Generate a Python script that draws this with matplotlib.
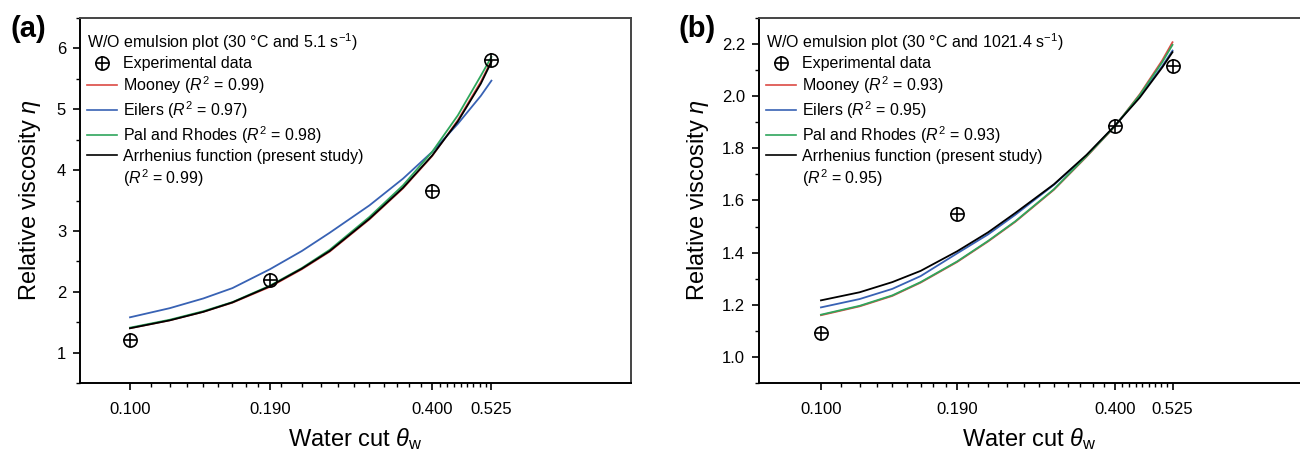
import numpy as np
import matplotlib
matplotlib.use("Agg")
import matplotlib.pyplot as plt
from matplotlib.lines import Line2D
from matplotlib.ticker import FixedLocator, NullFormatter

plt.rcParams['font.family'] = ['Liberation Sans', 'DejaVu Sans']
plt.rcParams['mathtext.fontset'] = 'custom'
plt.rcParams['mathtext.rm'] = 'Liberation Sans'
plt.rcParams['mathtext.it'] = 'Liberation Sans:italic'
plt.rcParams['mathtext.bf'] = 'Liberation Sans:bold'

# experimental points
water_cut = [0.100, 0.190, 0.400, 0.525]
exp_a = [1.20, 2.20, 3.65, 5.81]
exp_b = [1.09, 1.55, 1.885, 2.115]

# model curves
curve_x = [0.10, 0.12, 0.14, 0.16, 0.19, 0.22, 0.25, 0.30, 0.35, 0.40, 0.45, 0.50, 0.525]

mooney_a = [1.40, 1.53, 1.67, 1.82, 2.08, 2.37, 2.66, 3.19, 3.70, 4.23, 4.82, 5.45, 5.80]
eilers_a = [1.58, 1.73, 1.89, 2.06, 2.37, 2.67, 2.97, 3.42, 3.86, 4.30, 4.76, 5.22, 5.47]
pal_a = [1.41, 1.54, 1.68, 1.83, 2.10, 2.39, 2.69, 3.23, 3.75, 4.30, 4.90, 5.55, 5.86]
arrh_a = [1.40, 1.53, 1.67, 1.825, 2.09, 2.38, 2.67, 3.20, 3.71, 4.24, 4.80, 5.42, 5.78]

mooney_b = [1.160, 1.194, 1.234, 1.285, 1.364, 1.443, 1.518, 1.641, 1.768, 1.884, 2.008, 2.137, 2.207]
eilers_b = [1.190, 1.222, 1.261, 1.310, 1.397, 1.470, 1.545, 1.660, 1.772, 1.886, 2.000, 2.115, 2.175]
pal_b = [1.162, 1.196, 1.236, 1.287, 1.366, 1.445, 1.520, 1.643, 1.770, 1.885, 2.005, 2.130, 2.197]
arrh_b = [1.217, 1.248, 1.287, 1.330, 1.405, 1.478, 1.552, 1.662, 1.775, 1.887, 1.995, 2.110, 2.169]

r2_a = ["0.99", "0.97", "0.98", "0.99"]
r2_b = ["0.93", "0.95", "0.93", "0.95"]

tick_vals = [0.100, 0.190, 0.400, 0.525]
tick_labels = ["0.100", "0.190", "0.400", "0.525"]

colors = {"mooney": "#dc4a44", "eilers": "#3862b4", "pal": "#2fa65c", "arrh": "black"}

fig = plt.figure(figsize=(13, 4.54), dpi=100)
ax_a = fig.add_axes([80/1300, 1-383/454, 551/1300, 365/454])
ax_b = fig.add_axes([759/1300, 1-383/454, 541/1300, 365/454])


def draw(ax, exp_y, curves, r2, title, xlim, ylim, yticks, yminor, yfmt, ypad):
    names = ["Mooney", "Eilers", "Pal and Rhodes"]
    order = [0, 2, 1, 3]
    keys = ["mooney", "eilers", "pal", "arrh"]
    for i in order:
        ax.plot(curve_x, curves[i], color=colors[keys[i]], lw=1.3, zorder=2 + i)
    ax.plot(water_cut, exp_y, ls='none', marker='o', ms=9.5, mfc='none',
            mec='black', mew=1.2, zorder=10)
    ax.plot(water_cut, exp_y, ls='none', marker='+', ms=9.5, mec='black',
            mew=1.2, zorder=10)

    ax.set_xscale('log')
    ax.set_xlim(*xlim)
    ax.set_ylim(*ylim)
    ax.xaxis.set_major_locator(FixedLocator(tick_vals))
    ax.set_xticklabels(tick_labels)
    minor = list(np.arange(0.11, 0.185, 0.01)) + list(np.arange(0.20, 0.39, 0.02)) \
        + list(np.linspace(0.4, 0.525, 10)[1:-1])
    ax.xaxis.set_minor_locator(FixedLocator(minor))
    ax.xaxis.set_minor_formatter(NullFormatter())
    ax.set_yticks(yticks)
    ax.set_yticklabels([yfmt.format(v) for v in yticks])
    ax.yaxis.set_minor_locator(FixedLocator(yminor))

    ax.tick_params(which='major', direction='out', length=5, width=1.2, labelsize=12)
    ax.tick_params(axis='x', which='major', pad=9)
    ax.tick_params(axis='y', which='major', pad=5)
    ax.tick_params(which='minor', direction='out', length=3, width=1.0)
    for s in ['left', 'bottom']:
        ax.spines[s].set_linewidth(1.4)
        ax.spines[s].set_color('black')
    for s in ['top', 'right']:
        ax.spines[s].set_linewidth(1.4)
        ax.spines[s].set_color('#444444')

    ax.set_xlabel(r'Water cut $\theta_\mathrm{w}$', fontsize=17, labelpad=6)
    ax.set_ylabel(r'Relative viscosity $\eta$', fontsize=17, labelpad=ypad)

    circ = Line2D([], [], ls='none', marker='o', ms=9.5, mfc='none', mec='black', mew=1.2)
    plus = Line2D([], [], ls='none', marker='+', ms=9.5, mec='black', mew=1.2)
    handles = [(circ, plus)]
    labels = ["Experimental data"]
    for i, k in enumerate(keys[:3]):
        handles.append(Line2D([], [], color=colors[k], lw=1.2))
        labels.append(names[i] + r" ($R^2$ = " + r2[i] + ")")
    handles.append(Line2D([], [], color='black', lw=1.2))
    labels.append("Arrhenius function (present study)")
    handles.append(Line2D([], [], ls='none'))
    labels.append(r"($R^2$ = " + r2[3] + ")")
    ax.legend(handles, labels, title=title, loc='upper left',
              bbox_to_anchor=(-0.005, 0.99), frameon=False, fontsize=11.5,
              title_fontsize=11.5, handlelength=1.9, handletextpad=0.35,
              labelspacing=0.2, borderaxespad=0.2, alignment='left')


draw(ax_a, exp_a, [mooney_a, eilers_a, pal_a, arrh_a], r2_a,
     r"W/O emulsion plot (30 °C and 5.1 s$^{-1}$)",
     (0.0795, 0.996), (0.5, 6.5), [1, 2, 3, 4, 5, 6],
     list(np.arange(0.5, 6.6, 0.5)), "{:.0f}", 10)
draw(ax_b, exp_b, [mooney_b, eilers_b, pal_b, arrh_b], r2_b,
     r"W/O emulsion plot (30 °C and 1021.4 s$^{-1}$)",
     (0.07465, 0.958), (0.9, 2.3), [1.0, 1.2, 1.4, 1.6, 1.8, 2.0, 2.2],
     list(np.arange(0.9, 2.31, 0.1)), "{:.1f}", 8)
ax_b.spines['right'].set_visible(False)

fig.text(10/1300, 1-29/454, '(a)', fontsize=21, fontweight='bold', va='center', ha='left')
fig.text(678/1300, 1-29/454, '(b)', fontsize=21, fontweight='bold', va='center', ha='left')

fig.savefig('out.png', dpi=100)
